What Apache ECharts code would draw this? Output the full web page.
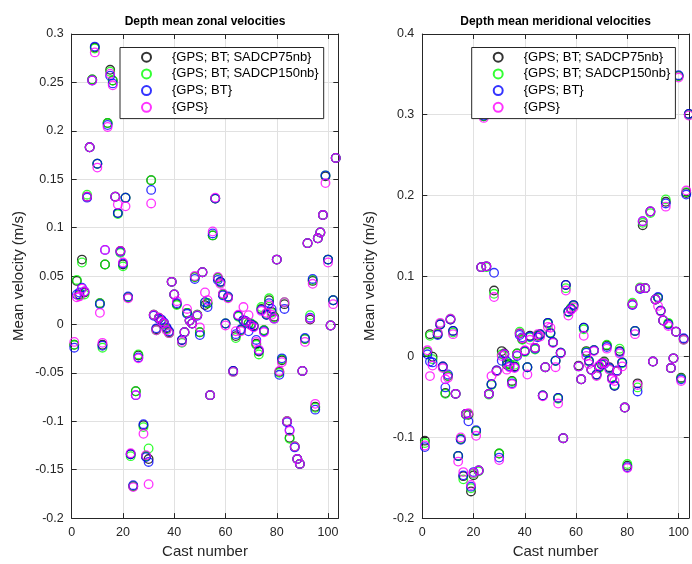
<!DOCTYPE html>
<html><head><meta charset="utf-8">
<script src="https://cdn.jsdelivr.net/npm/echarts@6/dist/echarts.min.js"></script>
<style>html,body{margin:0;padding:0;background:#fff}#c{width:692px;height:564px}</style>
</head><body><div id="c"></div>
<script>
const seriesNames = ['{GPS; BT; SADCP75nb}', '{GPS; BT; SADCP150nb}', '{GPS; BT}', '{GPS}'];
const seriesColors = ['#000000', '#00ff00', '#0000ff', '#ff00ff'];
const titles = ['Depth mean zonal velocities', 'Depth mean meridional velocities'];
const xTitle = 'Cast number';
const yTitle = 'Mean velocity (m/s)';

// Zonal (left panel)
const zonalCasts = [1,2,3,4,5,6,7,8,9,10,11,12,13,14,15,16,17,18,19,20,21,22,23,24,25,26,
  28,29,30,31,32,33,34,35,36,37,38,39,40,41,
  43,44,45,46,47,48,49,50,51,52,53,54,55,56,57,58,59,60,61,
  63,64,65,66,67,68,69,70,71,72,73,74,75,76,77,78,79,80,81,82,83,84,85,
  87,88,89,90,91,92,93,94,95,96,97,98,99,100,101,102,103];
const zonalK = [-0.021,0.045,0.031,0.067,0.033,0.132,0.183,0.253,0.286,0.166,
  0.022,-0.021,0.062,0.208,0.263,0.252,0.132,0.115,0.076,0.062,
  0.131,0.028,-0.134,-0.167,-0.069,-0.032,
  -0.104,-0.136,-0.139,0.149,0.010,-0.005,0.007,0.004,0.001,-0.004,-0.008,0.044,0.031,0.021,
  -0.016,-0.008,0.012,0.004,0.001,0.049,0.010,-0.008,0.054,0.020,0.022,-0.073,0.092,0.130,0.048,0.044,0.031,0.001,0.028,
  -0.048,-0.012,0.009,-0.006,0.004,0.003,0.001,0.000,-0.001,-0.020,-0.028,0.016,-0.006,0.010,0.025,0.013,0.008,0.067,-0.049,-0.037,0.021,-0.100,-0.117,
  -0.126,-0.139,-0.144,-0.048,-0.015,0.084,0.005,0.045,-0.085,0.089,0.095,0.113,0.153,0.067,-0.001,0.025,0.172];
const zonalG = [-0.021,0.046,0.030,0.064,0.031,0.134,0.183,0.253,0.285,0.166,
  0.022,-0.024,0.062,0.208,0.261,0.252,0.132,0.114,0.074,0.060,
  0.131,0.028,-0.136,-0.167,-0.069,-0.031,
  -0.106,-0.136,-0.128,0.149,0.010,-0.006,0.006,0.004,0.000,-0.005,-0.009,0.044,0.031,0.020,
  -0.019,-0.008,0.012,0.004,0.001,0.049,0.010,-0.008,0.054,0.023,0.022,-0.073,0.092,0.130,0.048,0.043,0.031,0.001,0.028,
  -0.049,-0.014,0.008,-0.006,0.004,0.002,0.001,0.001,-0.002,-0.021,-0.031,0.018,-0.006,0.011,0.027,0.012,0.007,0.067,-0.050,-0.036,0.023,-0.100,-0.118,
  -0.126,-0.139,-0.144,-0.048,-0.015,0.084,0.0096,0.046,-0.086,0.089,0.095,0.113,0.154,0.067,-0.001,0.025,0.172];
const zonalB = [-0.024,0.031,0.033,0.038,0.034,0.131,0.183,0.252,0.287,0.166,
  0.021,-0.022,0.077,0.206,0.257,0.249,0.132,0.115,0.075,0.063,
  0.131,0.029,-0.134,-0.166,-0.073,-0.034,
  -0.103,-0.137,-0.142,0.139,0.009,-0.004,0.006,0.005,0.002,-0.003,-0.007,0.044,0.031,0.022,
  -0.016,-0.008,0.011,0.004,0.001,0.047,0.009,-0.011,0.054,0.023,0.018,-0.073,0.094,0.130,0.046,0.044,0.030,0.001,0.029,
  -0.048,-0.010,0.009,-0.005,0.0045,0.003,-0.007,0.000,-0.002,-0.016,-0.027,0.015,-0.007,0.010,0.022,0.016,0.006,0.067,-0.052,-0.035,0.016,-0.101,-0.109,
  -0.127,-0.139,-0.144,-0.048,-0.014,0.084,0.007,0.047,-0.088,0.089,0.095,0.113,0.154,0.067,-0.001,0.025,0.172];
const zonalM = [-0.018,0.028,0.029,0.037,0.034,0.132,0.183,0.252,0.281,0.162,
  0.012,-0.019,0.077,0.204,0.259,0.247,0.132,0.124,0.076,0.064,
  0.122,0.027,-0.133,-0.168,-0.073,-0.035,
  -0.113,-0.135,-0.165,0.125,0.010,-0.006,0.007,0.003,0.001,-0.006,-0.009,0.044,0.031,0.024,
  -0.018,-0.008,0.016,0.004,0.001,0.050,0.0095,-0.003,0.054,0.033,0.025,-0.073,0.096,0.131,0.049,0.042,0.032,-0.001,0.027,
  -0.049,-0.007,0.010,-0.007,0.018,0.003,0.0096,-0.001,-0.003,-0.018,-0.026,0.014,-0.008,0.012,0.020,0.010,0.006,0.067,-0.048,-0.039,0.023,-0.100,-0.110,
  -0.126,-0.139,-0.144,-0.048,-0.018,0.084,0.006,0.042,-0.082,0.089,0.095,0.113,0.146,0.064,-0.001,0.021,0.172];

// Meridional (right panel)
const meridCasts = [1,2,3,4,
  6,7,8,9,10,11,12,13,14,15,16,17,18,19,20,21,22,23,24,25,26,27,28,29,30,31,32,33,34,35,36,37,38,39,40,41,42,
  44,45,46,47,48,49,50,51,52,53,54,55,56,57,58,59,
  61,62,63,64,65,66,67,68,69,70,71,72,73,74,75,76,77,78,79,80,
  82,83,84,85,86,87,
  89,90,91,92,93,94,95,96,97,98,99,100,101,102,103,104];
const meridK = [-0.104,0.006,0.028,0.000,
  0.028,0.040,-0.012,-0.045,-0.024,0.046,0.032,-0.046,-0.123,-0.102,-0.148,-0.071,-0.072,-0.167,-0.147,-0.092,-0.141,0.111,0.298,0.112,-0.046,-0.034,0.082,-0.017,-0.120,0.007,0.004,-0.010,-0.009,-0.030,-0.012,0.004,0.029,0.022,0.007,-0.013,0.026,
  0.011,0.026,0.028,-0.048,-0.013,0.042,0.029,0.018,-0.005,-0.051,0.005,-0.101,0.089,0.056,0.060,0.064,
  -0.011,-0.028,0.036,0.007,-0.005,-0.016,0.008,-0.022,-0.013,-0.009,-0.006,0.014,-0.013,-0.026,-0.036,-0.018,0.007,-0.007,-0.063,-0.135,
  0.065,0.032,-0.033,0.085,0.163,0.085,
  0.180,-0.006,0.071,0.073,0.057,0.045,0.192,0.041,-0.014,-0.002,0.031,0.348,-0.026,0.022,0.203,0.301];
const meridG = [-0.107,0.006,0.026,-0.003,
  0.029,0.041,-0.013,-0.046,-0.024,0.047,0.030,-0.046,-0.123,-0.102,-0.152,-0.072,-0.071,-0.163,-0.145,-0.092,-0.142,0.111,0.298,0.111,-0.047,-0.035,0.078,-0.018,-0.120,0.003,0.002,-0.008,-0.010,-0.031,-0.010,0.004,0.031,0.021,0.006,-0.013,0.024,
  0.009,0.027,0.027,-0.048,-0.013,0.041,0.030,0.018,-0.005,-0.052,0.005,-0.101,0.085,0.055,0.060,0.063,
  -0.012,-0.028,0.034,0.006,-0.006,-0.016,0.008,-0.023,-0.014,-0.010,-0.007,0.015,-0.015,-0.026,-0.035,-0.018,0.010,-0.008,-0.063,-0.133,
  0.067,0.032,-0.038,0.086,0.166,0.085,
  0.178,-0.006,0.071,0.073,0.057,0.045,0.195,0.042,-0.014,-0.002,0.031,0.348,-0.027,0.021,0.204,0.300];
const meridB = [-0.112,0.003,-0.006,-0.007,
  0.027,0.040,-0.012,-0.038,-0.022,0.046,0.032,-0.046,-0.123,-0.103,-0.147,-0.071,-0.080,-0.161,-0.143,-0.091,-0.141,0.111,0.299,0.112,-0.046,-0.034,0.104,-0.017,-0.125,-0.005,0.003,-0.006,-0.012,-0.033,-0.013,0.001,0.027,0.024,0.007,-0.013,0.025,
  0.010,0.024,0.0275,-0.048,-0.013,0.042,0.029,0.018,-0.005,-0.051,0.005,-0.101,0.089,0.056,0.059,0.064,
  -0.012,-0.028,0.036,0.005,-0.005,-0.016,0.008,-0.022,-0.012,-0.009,-0.009,0.012,-0.014,-0.027,-0.036,-0.017,0.006,-0.007,-0.063,-0.137,
  0.064,0.032,-0.043,0.084,0.168,0.085,
  0.180,-0.006,0.071,0.074,0.057,0.045,0.190,0.040,-0.014,-0.002,0.031,0.349,-0.028,0.023,0.201,0.301];
const meridM = [-0.110,0.008,-0.024,-0.011,
  0.030,0.042,-0.014,-0.028,-0.026,0.047,0.028,-0.046,-0.130,-0.100,-0.143,-0.071,-0.070,-0.159,-0.144,-0.098,-0.141,0.111,0.296,0.112,-0.046,-0.024,0.074,-0.018,-0.128,0.001,0.003,-0.016,-0.013,-0.034,-0.014,0.002,0.029,0.023,0.008,-0.022,0.021,
  0.011,0.028,0.025,-0.049,-0.013,0.037,0.036,0.017,-0.013,-0.058,0.004,-0.101,0.082,0.051,0.058,0.061,
  -0.012,-0.028,0.026,0.001,-0.009,-0.016,0.007,-0.024,-0.011,-0.008,-0.008,0.010,-0.016,-0.028,-0.030,-0.018,0.004,-0.012,-0.063,-0.138,
  0.065,0.028,-0.035,0.085,0.168,0.085,
  0.180,-0.006,0.071,0.063,0.056,0.045,0.186,0.038,-0.014,-0.002,0.031,0.346,-0.030,0.021,0.206,0.299];

const xTicks = {min: 0, max: 104, interval: 20};
const yTicksZonal = {min: -0.2, max: 0.3, interval: 0.05};
const yTicksMerid = {min: -0.2, max: 0.4, interval: 0.1};

const FONT = '"Liberation Sans", Arial, Helvetica, sans-serif';
const AX = '#262626';
const GRIDC = '#e1e1e1';

function pairs(casts, vals) {
  const out = [];
  for (let i = 0; i < casts.length; i++) {
    if (vals[i] !== null && vals[i] !== undefined) out.push([casts[i], vals[i]]);
  }
  return out;
}

const panels = [
  {casts: zonalCasts, vals: [zonalK, zonalG, zonalB, zonalM], y: yTicksZonal, left: 71.7, legendLeft: 120, titleX: 205},
  {casts: meridCasts, vals: [meridK, meridG, meridB, meridM], y: yTicksMerid, left: 422.3, legendLeft: 471.7, titleX: 555.6}
];
const PW = 266.6, PT = 34, PH = 486.7;

const option = {
  animation: false,
  backgroundColor: '#ffffff',
  textStyle: {fontFamily: FONT},
  title: panels.map((p, i) => ({
    text: titles[i], left: p.titleX, top: 15.5, textAlign: 'center', padding: 0,
    textStyle: {fontFamily: FONT, fontSize: 12, fontWeight: 'bold', color: '#000'}
  })),
  grid: panels.map(p => ({left: p.left, top: PT, width: PW, height: PH, containLabel: false})),
  legend: panels.map((p, i) => ({
    data: seriesNames, orient: 'vertical', left: p.legendLeft, top: 47.5,
    itemWidth: 41, itemHeight: 9, itemGap: 2.7, padding: [2.7, 5, 4.3, 21],
    backgroundColor: '#ffffff', borderColor: '#262626', borderWidth: 1, borderRadius: 0,
    selectedMode: false,
    textStyle: {fontFamily: FONT, fontSize: 13, color: '#000', lineHeight: 14}
  })),
  xAxis: [],
  yAxis: [],
  series: []
};

panels.forEach((p, gi) => {
  option.xAxis.push({
    type: 'value', gridIndex: gi, position: 'bottom', min: xTicks.min, max: xTicks.max, interval: xTicks.interval,
    name: xTitle, nameLocation: 'middle', nameGap: 21,
    nameTextStyle: {fontFamily: FONT, fontSize: 15, color: AX},
    axisLine: {show: true, onZero: false, lineStyle: {color: AX, width: 1}},
    axisTick: {show: true, inside: true, length: 5, lineStyle: {color: AX}},
    axisLabel: {show: true, color: AX, fontSize: 12.5, fontFamily: FONT, margin: 8, showMaxLabel: false},
    splitLine: {show: true, lineStyle: {color: GRIDC, width: 1}}
  });
  option.xAxis.push({
    type: 'value', gridIndex: gi, position: 'top', min: xTicks.min, max: xTicks.max, interval: xTicks.interval,
    axisLine: {show: true, onZero: false, lineStyle: {color: AX, width: 1}},
    axisTick: {show: true, inside: true, length: 5, lineStyle: {color: AX}},
    axisLabel: {show: false}, splitLine: {show: false}
  });
  option.yAxis.push({
    type: 'value', gridIndex: gi, position: 'left', min: p.y.min, max: p.y.max, interval: p.y.interval,
    name: yTitle, nameLocation: 'middle', nameGap: 45, nameRotate: 90,
    nameTextStyle: {fontFamily: FONT, fontSize: 15, color: AX},
    axisLine: {show: true, onZero: false, lineStyle: {color: AX, width: 1}},
    axisTick: {show: true, inside: true, length: 5, lineStyle: {color: AX}},
    axisLabel: {show: true, color: AX, fontSize: 12.5, fontFamily: FONT, margin: 8},
    splitLine: {show: true, lineStyle: {color: GRIDC, width: 1}}
  });
  option.yAxis.push({
    type: 'value', gridIndex: gi, position: 'right', min: p.y.min, max: p.y.max, interval: p.y.interval,
    axisLine: {show: true, onZero: false, lineStyle: {color: AX, width: 1}},
    axisTick: {show: true, inside: true, length: 5, lineStyle: {color: AX}},
    axisLabel: {show: false}, splitLine: {show: false}
  });
  seriesNames.forEach((name, si) => {
    option.series.push({
      type: 'scatter', name: name, xAxisIndex: gi * 2, yAxisIndex: gi * 2,
      data: pairs(p.casts, p.vals[si]),
      symbol: 'circle', symbolSize: 8.6, clip: false, silent: true,
      itemStyle: {color: 'rgba(0,0,0,0)', borderColor: seriesColors[si], borderWidth: 1.3},
      emphasis: {disabled: true}
    });
  });
});

const chart = echarts.init(document.getElementById('c'), null, {renderer: 'canvas'});
chart.setOption(option);
</script>
</body></html>
